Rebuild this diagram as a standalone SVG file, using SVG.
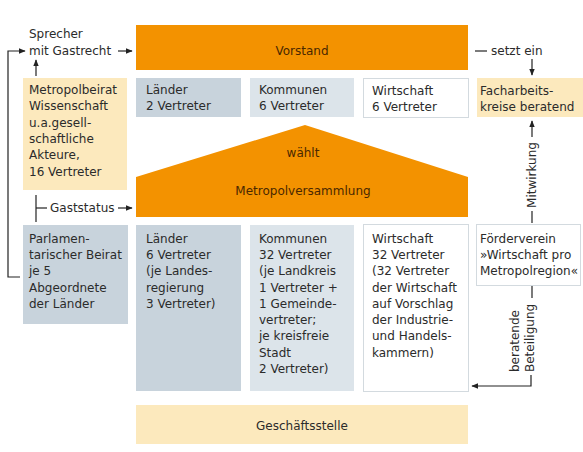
<svg xmlns="http://www.w3.org/2000/svg" width="583" height="452" viewBox="0 0 583 452">
<defs>
<marker id="ah" viewBox="0 0 10 10" refX="9" refY="5" markerWidth="7" markerHeight="7" markerUnits="userSpaceOnUse" orient="auto">
<path d="M0,1 L10,5 L0,9 Z" fill="#222"/>
</marker>
<style>
text{font-family:"DejaVu Sans","Verdana",sans-serif;font-size:12px;fill:#2b2b2b}
.o{fill:#f39200}
.y{fill:#fce9bd}
.g{fill:#c8d3dc}
.l{fill:#dce4ea}
.w{fill:#ffffff;stroke:#d3dadf;stroke-width:1}
.ot{fill:#4a2800}
.c{text-anchor:middle}
.ln{stroke:#222;stroke-width:1.2;fill:none}
</style>
</defs>
<rect width="583" height="452" fill="#fff"/>
<g id="vorstand">
<rect class="o" x="136" y="25" width="332" height="45"/>
<text class="ot c" x="302" y="55">Vorstand</text>
</g>
<g id="sprecher">
<text x="29" y="38">Sprecher</text>
<text x="29" y="55">mit Gastrecht</text>
</g>
<g id="metropolbeirat">
<rect class="y" x="23" y="78" width="104" height="112"/>
<text x="29" y="94">Metropolbeirat</text>
<text x="29" y="110">Wissenschaft</text>
<text x="29" y="127">u.a.gesell-</text>
<text x="29" y="143">schaftliche</text>
<text x="29" y="159">Akteure,</text>
<text x="29" y="176">16 Vertreter</text>
</g>
<g id="laender-vorstand">
<rect class="g" x="136" y="78" width="105" height="39"/>
<text x="146" y="94">Länder</text>
<text x="146" y="110">2 Vertreter</text>
</g>
<g id="kommunen-vorstand">
<rect class="l" x="250" y="78" width="104" height="39"/>
<text x="259" y="94">Kommunen</text>
<text x="259" y="110">6 Vertreter</text>
</g>
<g id="wirtschaft-vorstand">
<rect class="w" x="363.5" y="78.5" width="105" height="39"/>
<text x="372" y="95">Wirtschaft</text>
<text x="372" y="111">6 Vertreter</text>
</g>
<g id="facharbeitskreise">
<rect class="y" x="477" y="78" width="106" height="39"/>
<text x="480" y="95">Facharbeits-</text>
<text x="480" y="111">kreise beratend</text>
</g>
<g id="metropolversammlung">
<path class="o" d="M305,125 L468,177 L468,217 L136,217 L136,177 Z"/>
<text class="ot c" x="303" y="157">wählt</text>
<text class="ot c" x="303" y="195">Metropolversammlung</text>
</g>
<g id="gaststatus">
<text x="50" y="212">Gaststatus</text>
</g>
<g id="parlamentarischer-beirat">
<rect class="g" x="23" y="225" width="105" height="99"/>
<text x="29" y="243">Parlamen-</text>
<text x="29" y="259">tarischer Beirat</text>
<text x="29" y="275">je 5</text>
<text x="29" y="292">Abgeordnete</text>
<text x="29" y="308">der Länder</text>
</g>
<g id="laender-versammlung">
<rect class="g" x="136" y="225" width="105" height="166"/>
<text x="146" y="243">Länder</text>
<text x="146" y="259">6 Vertreter</text>
<text x="146" y="275">(je Landes-</text>
<text x="146" y="292">regierung</text>
<text x="146" y="308">3 Vertreter)</text>
</g>
<g id="kommunen-versammlung">
<rect class="l" x="250" y="225" width="104" height="166"/>
<text x="259" y="243">Kommunen</text>
<text x="259" y="259">32 Vertreter</text>
<text x="259" y="275">(je Landkreis</text>
<text x="259" y="292">1 Vertreter +</text>
<text x="259" y="308">1 Gemeinde-</text>
<text x="259" y="324">vertreter;</text>
<text x="259" y="340">je kreisfreie</text>
<text x="259" y="357">Stadt</text>
<text x="259" y="373">2 Vertreter)</text>
</g>
<g id="wirtschaft-versammlung">
<rect class="w" x="363.5" y="224.5" width="105" height="167"/>
<text x="372" y="243">Wirtschaft</text>
<text x="372" y="259">32 Vertreter</text>
<text x="372" y="275">(32 Vertreter</text>
<text x="372" y="292">der Wirtschaft</text>
<text x="372" y="308">auf Vorschlag</text>
<text x="372" y="324">der Industrie-</text>
<text x="372" y="340">und Handels-</text>
<text x="372" y="357">kammern)</text>
</g>
<g id="foerderverein">
<rect class="w" x="476.5" y="224.5" width="104" height="61"/>
<text x="480" y="243">Förderverein</text>
<text x="480" y="259">»Wirtschaft pro</text>
<text x="480" y="275">Metropolregion«</text>
</g>
<g id="geschaeftsstelle">
<rect class="y" x="136" y="405" width="332" height="39"/>
<text class="c" x="302" y="430">Geschäftsstelle</text>
</g>
<g id="connectors">
<line class="ln" x1="118" y1="51" x2="132" y2="51" marker-end="url(#ah)"/>
<path class="ln" d="M20,277 H8 V51 H25" marker-end="url(#ah)"/>
<line class="ln" x1="36" y1="76" x2="36" y2="60" marker-end="url(#ah)"/>
<line class="ln" x1="36" y1="195" x2="36" y2="222"/>
<line class="ln" x1="36" y1="208" x2="47" y2="208"/>
<line class="ln" x1="118" y1="208" x2="132" y2="208" marker-end="url(#ah)"/>
<line class="ln" x1="475" y1="51" x2="487" y2="51"/>
<text x="491" y="55">setzt ein</text>
<line class="ln" x1="532" y1="59" x2="532" y2="75" marker-end="url(#ah)"/>
<line class="ln" x1="532" y1="223" x2="532" y2="211"/>
<line class="ln" x1="532" y1="137" x2="532" y2="121" marker-end="url(#ah)"/>
<text class="c" transform="translate(536,175) rotate(-90)">Mitwirkung</text>
<line class="ln" x1="532" y1="286" x2="532" y2="298"/>
<text transform="translate(519,372) rotate(-90)">beratende</text>
<text transform="translate(534,372) rotate(-90)">Beteiligung</text>
<path class="ln" d="M531,375 V386 H472" marker-end="url(#ah)"/>
</g>
</svg>
